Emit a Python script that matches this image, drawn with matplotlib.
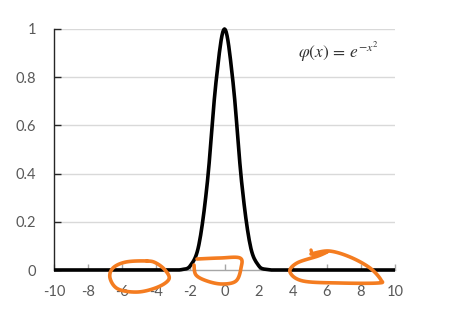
import numpy as np
import matplotlib
matplotlib.use("Agg")
import matplotlib.pyplot as plt
from matplotlib.path import Path
from matplotlib.patches import PathPatch
import matplotlib.transforms as mtrans

x_vals = [-10, -9.5, -9, -8.5, -8, -7.5, -7, -6.5, -6, -5.5, -5, -4.5, -4, -3.5,
          -3, -2.5, -2, -1.5, -1, -0.5, 0, 0.5, 1, 1.5, 2, 2.5, 3, 3.5,
          4, 4.5, 5, 5.5, 6, 6.5, 7, 7.5, 8, 8.5, 9, 9.5, 10]
y_vals = [0, 0, 0, 0, 0, 0, 0, 0, 0, 0, 0, 0, 0, 0,
          0.0001, 0.0019, 0.0183, 0.1054, 0.3679, 0.7788, 1.0, 0.7788, 0.3679, 0.1054, 0.0183, 0.0019, 0.0001, 0,
          0, 0, 0, 0, 0, 0, 0, 0, 0, 0, 0, 0, 0]
x_ticks = [-10, -8, -6, -4, -2, 0, 2, 4, 6, 8, 10]
y_ticks = [0, 0.2, 0.4, 0.6, 0.8, 1]
y_ticklabels = ["0", "0.2", "0.4", "0.6", "0.8", "1"]
formula = r"$\varphi(x)\,=\,e^{-x^2}$"


def catmull_rom(px, py, n=12, closed=False):
    P = list(zip(px, py))
    if closed:
        P = [P[-1]] + P + [P[0], P[1]]
    else:
        P = [P[0]] + P + [P[-1]]
    xs, ys = [], []
    for i in range(1, len(P) - 2):
        p0, p1, p2, p3 = map(np.array, (P[i - 1], P[i], P[i + 1], P[i + 2]))
        for t in np.linspace(0, 1, n, endpoint=False):
            t2, t3 = t * t, t * t * t
            pt = 0.5 * ((2 * p1) + (-p0 + p2) * t + (2 * p0 - 5 * p1 + 4 * p2 - p3) * t2
                        + (-p0 + 3 * p1 - 3 * p2 + p3) * t3)
            xs.append(pt[0]); ys.append(pt[1])
    if closed:
        xs.append(xs[0]); ys.append(ys[0])
    else:
        xs.append(P[-2][0]); ys.append(P[-2][1])
    return np.array(xs), np.array(ys)


W, H = 453, 318
fig = plt.figure(figsize=(W / 100, H / 100), dpi=100)
fig.patch.set_facecolor("white")
ax = fig.add_axes([54 / W, 1 - 270 / H, (395 - 54) / W, (270 - 29) / H])

ax.set_xlim(-10, 10)
ax.set_ylim(0, 1)

for yv in y_ticks[1:]:
    ax.axhline(yv, color="#D9D9D9", lw=1.0, zorder=0)

sx, sy = catmull_rom(x_vals, y_vals, n=10)
sy = np.clip(sy, 0, None)
ax.plot(sx, sy, color="black", lw=2.6, solid_capstyle="butt", clip_on=False, zorder=3)

for s in ["top", "right"]:
    ax.spines[s].set_visible(False)
ax.spines["left"].set_color("#262626")
ax.spines["left"].set_linewidth(1.0)
ax.spines["bottom"].set_color("#A6A6A6")
ax.spines["bottom"].set_linewidth(1.0)

ax.set_xticks(x_ticks)
ax.set_xticklabels([str(t) for t in x_ticks])
ax.set_yticks(y_ticks)
ax.set_yticklabels(y_ticklabels)
ax.tick_params(axis="x", direction="in", length=4, width=1, color="#A6A6A6",
               labelsize=10.5, labelcolor="#595959", pad=11)
ax.tick_params(axis="y", direction="in", length=5, width=1, color="#262626",
               labelsize=10.5, labelcolor="#595959", pad=13)
for lab in ax.get_xticklabels() + ax.get_yticklabels():
    lab.set_fontfamily("Lato")

plt.rcParams["mathtext.fontset"] = "stix"
fig.text(338 / W, 1 - 52 / H, formula, fontsize=12.5, color="#333333",
         ha="center", va="center")

# hand-drawn orange circles (figure pixel coordinates)
pix = mtrans.Affine2D().scale(1 / W, -1 / H).translate(0, 1) + fig.transFigure
orange = "#F47C20"
shapes = [
    ([147, 126, 113, 110, 118, 138, 158, 169, 165, 156],
     [261, 262, 268, 278, 289, 292, 287, 279, 270, 263], True),
    ([197, 220, 240, 241, 236, 222, 207, 196, 194],
     [259, 258, 258, 268, 281, 284, 281, 275, 265], False),
    ([311, 329, 350, 370, 381, 378, 340, 303, 290, 297, 318, 327],
     [254, 251, 257, 268, 280, 283, 283, 281, 272, 263, 256, 252], False),
]
for px, py, closed in shapes:
    xs, ys = catmull_rom(px, py, n=10, closed=closed)
    patch = PathPatch(Path(np.column_stack([xs, ys])), transform=pix, fill=False,
                      edgecolor=orange, lw=2.6, capstyle="round", joinstyle="round",
                      zorder=10)
    fig.add_artist(patch)
# small hook of the right circle
hx, hy = catmull_rom([311, 314, 327], [250, 255, 252], n=6)
fig.add_artist(PathPatch(Path(np.column_stack([hx, hy])), transform=pix, fill=False,
                         edgecolor=orange, lw=2.4, capstyle="round"))

fig.savefig("out.png", dpi=100, facecolor="white")
